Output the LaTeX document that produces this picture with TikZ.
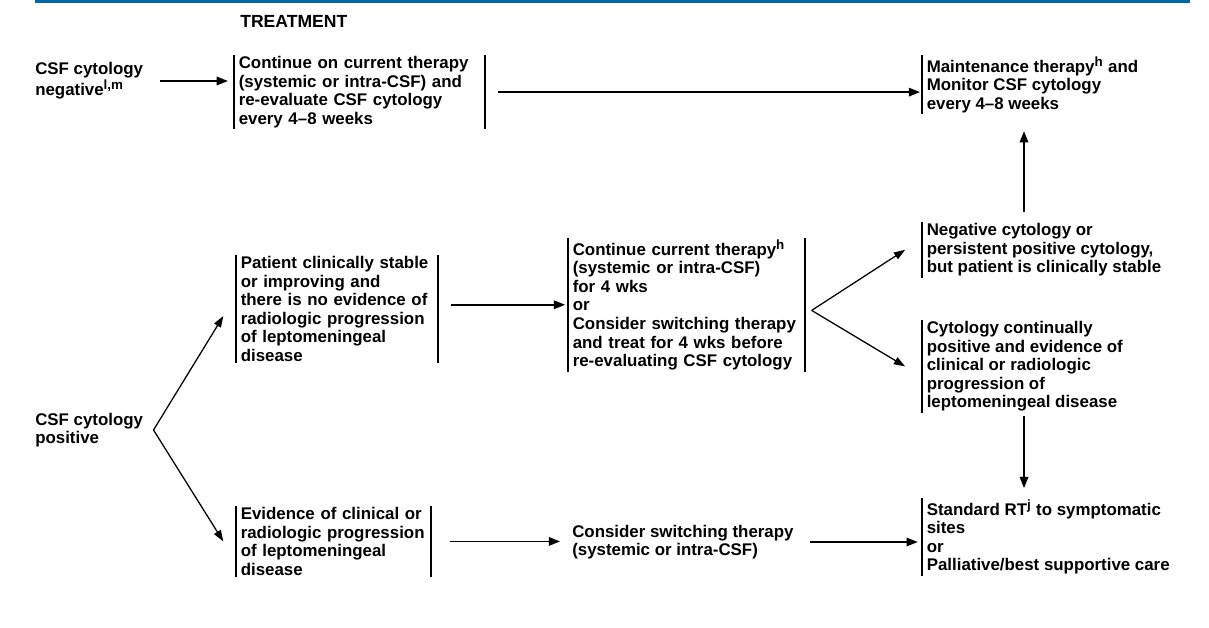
\documentclass[tikz,border=0pt]{standalone}
\usepackage{fontspec}
\setmainfont{Liberation Sans}
\usetikzlibrary{arrows.meta}
\definecolor{nccnblue}{RGB}{0,104,168}
\newcommand{\fnref}[1]{\textsuperscript{\fontsize{9.5}{9.5}\selectfont #1}}
\tikzset{
  txt/.style={font=\bfseries\fontsize{12}{13.2}\selectfont, align=left, inner xsep=3.2pt, inner ysep=0.8pt},
  box/.style={txt, text width=#1, anchor=north west},
  bar/.style={line width=1.3pt},
  arr/.style={line width=1.3pt, -{Triangle[length=8pt,width=6pt]}},
  fork/.style={line width=0.9pt, -{Triangle[length=8pt,width=5.5pt]}}
}
\begin{document}
\begin{tikzpicture}[x=0.025cm, y=-0.025cm]
    \useasboundingbox (0,0) rectangle (1209,628);
    % Header rule and title
    \fill[nccnblue] (35,0) rectangle (1190,3);
    \node[txt, anchor=west, font=\bfseries\fontsize{12.5}{14}\selectfont] (head) at (235.5,21) {TREATMENT};

    % Starting points
    \node[txt, anchor=west] (neg) at (30.5,81) {CSF cytology\\negative\fnref{l,m}};
    \node[txt, anchor=west] (pos) at (30.5,430) {CSF cytology\\positive};

    % Treatment boxes
    \node[box=6.025cm] (cont) at (234,55) {Continue on current therapy\\(systemic or intra-CSF) and\\re-evaluate CSF cytology\\every 4–8 weeks};
    \node[box=4.8cm] (pat) at (236,255) {Patient clinically stable\\or improving and\\there is no evidence of\\radiologic progression\\of leptomeningeal\\disease};
    \node[box=5.675cm] (cc) at (568,238) {Continue current therapy\fnref{h}\\(systemic or intra-CSF)\\for 4 wks\\or\\Consider switching therapy\\and treat for 4 wks before\\re-evaluating CSF cytology};
    \node[box=4.625cm] (evid) at (236,506) {Evidence of clinical or\\radiologic progression\\of leptomeningeal\\disease};
    \node[txt, anchor=west] (switch) at (567.5,542) {Consider switching therapy\\(systemic or intra-CSF)};

    % Outcomes on the right
    \node[txt, anchor=north west] (maint) at (922,55) {Maintenance therapy\fnref{h} and\\Monitor CSF cytology\\every 4–8 weeks};
    \node[txt, anchor=north west] (negcyt) at (922,222) {Negative cytology or\\persistent positive cytology,\\but patient is clinically stable};
    \node[txt, anchor=north west] (cytcont) at (922,320) {Cytology continually\\positive and evidence of\\clinical or radiologic\\progression of\\leptomeningeal disease};
    \node[txt, anchor=north west] (stdrt) at (922,498) {Standard RT\fnref{j} to symptomatic\\sites\\or\\Palliative/best supportive care};

    % Bars beside the boxes
    \foreach \n in {cont,pat,cc,evid}
        \draw[bar] (\n.north west) -- (\n.south west) (\n.north east) -- (\n.south east);
    \foreach \n in {maint,negcyt,cytcont,stdrt}
        \draw[bar] (\n.north west) -- (\n.south west);

    % Straight arrows
    \coordinate (col) at (1024,0);
    \draw[arr, shorten <=8.9pt, shorten >=4.3pt] (neg.east) -- (neg.east -| cont.west);
    \draw[arr, shorten <=9.2pt, shorten >=1.4pt] (cont.east) -- (cont.east -| maint.west);
    \draw[arr, shorten <=7pt, shorten >=12pt] (negcyt.north -| col) -- (maint.south -| col);
    \draw[arr, shorten <=2pt, shorten >=7pt] (cytcont.south -| col) -- (stdrt.north -| col);
    \draw[arr, shorten <=9.2pt, shorten >=2pt] (cc.west -| pat.east) -- (cc.west);
    \draw[arr, shorten <=14pt, shorten >=5.3pt] (evid.east) -- (evid.east -| switch.west);
    \draw[arr, shorten <=8.5pt, shorten >=3pt] (switch.east) -- (switch.east -| stdrt.west);

    % Forks
    \coordinate (fork1) at ([xshift=4pt]pos.east);
    \coordinate (fork2) at ([xshift=5pt,yshift=-4pt]cc.east);
    \draw[fork] (fork1) -- ([xshift=-9pt,yshift=-5pt]pat.west);
    \draw[fork] (fork1) -- ([xshift=-9pt]evid.west);
    \draw[fork] (fork2) -- ([xshift=-12pt]negcyt.west);
    \draw[fork] (fork2) -- ([xshift=-12pt]cytcont.west);
\end{tikzpicture}
\end{document}
